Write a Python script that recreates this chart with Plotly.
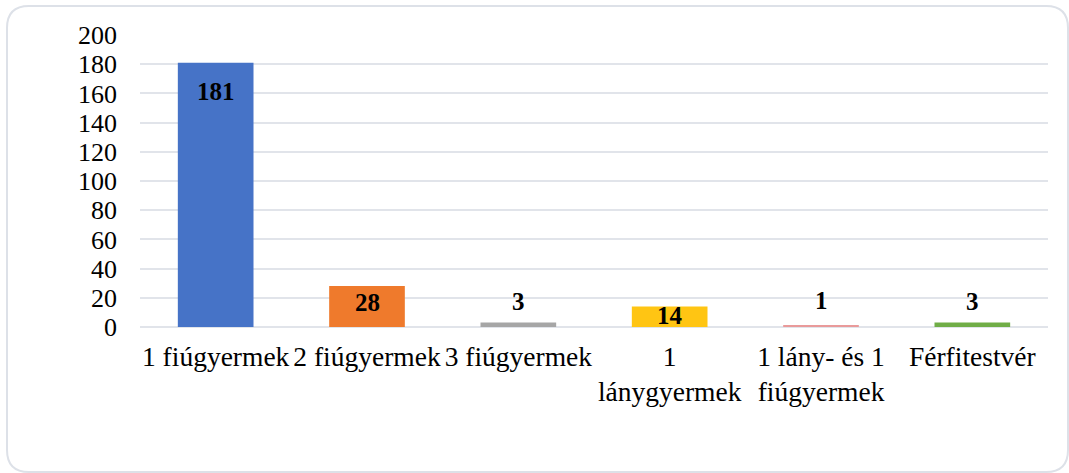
import plotly.graph_objects as go

categories = ["1 fiúgyermek", "2 fiúgyermek", "3 fiúgyermek", "1<br>lánygyermek", "1 lány- és 1<br>fiúgyermek", "Férfitestvér"]
values = [181, 28, 3, 14, 1, 3]
bar_colors = ["#4673c7", "#ef7a2c", "#a6a6a6", "#ffc513", "#e99a9a", "#70ad47"]
label_shift = [-29, -16, 21, -9, 25, 21]
y_ticks = [0, 20, 40, 60, 80, 100, 120, 140, 160, 180, 200]

W, H = 1069, 473
L, R, T, B = 140, 1048, 35, 327

fig = go.Figure()
fig.add_trace(go.Bar(
    x=categories, y=values,
    marker=dict(color=bar_colors, line=dict(width=0)),
    hoverinfo="skip",
))

for c, v, s in zip(categories, values, label_shift):
    fig.add_annotation(x=c, y=v, text="<b>%d</b>" % v, showarrow=False,
                       yanchor="middle", yshift=s,
                       font=dict(family="Liberation Serif", size=25, color="black"))

def px(X):
    return (X - L) / (R - L)

def py(Y):
    return (B - Y) / (B - T)

x0, y0, x1, y1, r = 7, 6, 1068, 472, 22
path = (f"M {px(x0 + r)},{py(y0)} L {px(x1 - r)},{py(y0)} "
        f"Q {px(x1)},{py(y0)} {px(x1)},{py(y0 + r)} "
        f"L {px(x1)},{py(y1 - r)} Q {px(x1)},{py(y1)} {px(x1 - r)},{py(y1)} "
        f"L {px(x0 + r)},{py(y1)} Q {px(x0)},{py(y1)} {px(x0)},{py(y1 - r)} "
        f"L {px(x0)},{py(y0 + r)} Q {px(x0)},{py(y0)} {px(x0 + r)},{py(y0)} Z")
fig.add_shape(type="path", path=path, xref="paper", yref="paper",
              line=dict(color="#dde1e8", width=2), layer="below")

fig.update_layout(
    width=W, height=H,
    margin=dict(l=L, r=W - R, t=T, b=H - B, autoexpand=False),
    paper_bgcolor="white", plot_bgcolor="white",
    bargap=0.5, showlegend=False,
    font=dict(family="Liberation Serif", size=26, color="black"),
    xaxis=dict(showgrid=False, showline=False, ticks="", ticklabelstandoff=10,
               tickangle=0, automargin=False, tickfont=dict(size=27.5)),
    yaxis=dict(range=[0, 200], tickvals=y_ticks, showgrid=True, gridcolor="#e1e4ea",
               gridwidth=2, zeroline=True, zerolinecolor="#e1e4ea", zerolinewidth=2,
               showline=False, ticks="", ticklabelstandoff=22, automargin=False,
               tickfont=dict(size=26)),
)

fig.write_html("out.html", config={"displayModeBar": False},
               post_script="document.body.style.margin='0';document.body.style.overflow='hidden';")
